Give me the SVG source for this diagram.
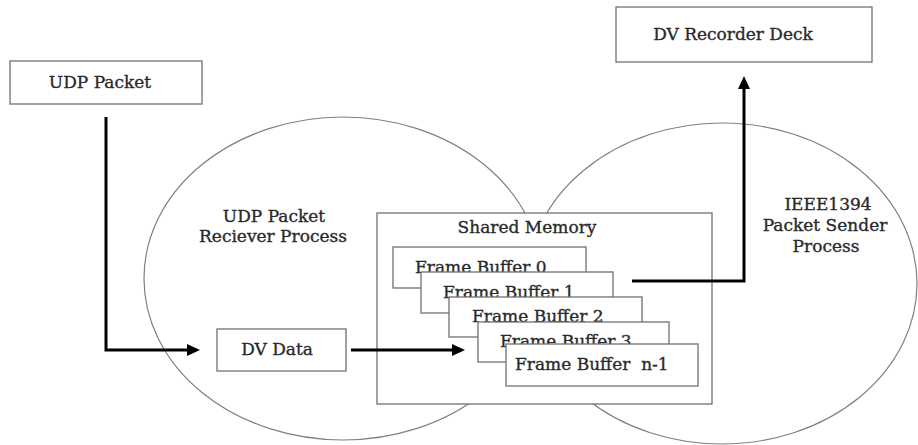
<svg xmlns="http://www.w3.org/2000/svg" width="918" height="445" viewBox="0 0 918 445">
<style>
  .box { fill: #ffffff; stroke: #707070; stroke-width: 1.3; }
  .proc { fill: none; stroke: #808080; stroke-width: 1.2; }
  .lbl { font-family: "DejaVu Serif", "Liberation Serif", serif; font-size: 17px; fill: #2a2a2a; stroke: #2a2a2a; stroke-width: 0.35; }
  .mid { text-anchor: middle; }
  .conn { fill: none; stroke: #000000; stroke-width: 3; stroke-linejoin: miter; }
</style>
<defs>
  <marker id="arrow" markerUnits="userSpaceOnUse" markerWidth="14" markerHeight="13" refX="7" refY="6" orient="auto">
    <path d="M0,0 L13,6 L0,12 z" fill="#000000"/>
  </marker>
</defs>
<rect width="918" height="445" fill="#ffffff"/>

<g id="udp-receiver-process">
  <ellipse class="proc" cx="343" cy="278.5" rx="199" ry="161.5"/>
  <text class="lbl mid" x="274" y="222">UDP Packet</text>
  <text class="lbl mid" x="273" y="242">Reciever Process</text>
</g>

<g id="ieee1394-sender-process">
  <ellipse class="proc" cx="722" cy="283.5" rx="195" ry="160.5"/>
  <text class="lbl mid" x="828" y="210">IEEE1394</text>
  <text class="lbl mid" x="825" y="231">Packet Sender</text>
  <text class="lbl mid" x="826" y="252">Process</text>
</g>

<g id="udp-packet">
  <rect class="box" x="10" y="61" width="192" height="43"/>
  <text class="lbl mid" x="100" y="88">UDP Packet</text>
</g>

<g id="dv-recorder-deck">
  <rect class="box" x="616" y="7" width="256" height="55"/>
  <text class="lbl mid" x="733" y="40">DV Recorder Deck</text>
</g>

<g id="dv-data">
  <rect class="box" x="217" y="329" width="129" height="42"/>
  <text class="lbl mid" x="277" y="355">DV Data</text>
</g>

<g id="shared-memory">
  <rect class="box" x="377" y="213" width="335" height="191"/>
  <text class="lbl mid" x="527" y="233">Shared Memory</text>
</g>

<g id="frame-buffer-0">
  <rect class="box" x="393" y="247" width="193" height="41"/>
  <text class="lbl" x="415" y="273">Frame Buffer 0</text>
</g>
<g id="frame-buffer-1">
  <rect class="box" x="421" y="272" width="192" height="41"/>
  <text class="lbl" x="443" y="298">Frame Buffer 1</text>
</g>
<g id="frame-buffer-2">
  <rect class="box" x="449" y="297" width="193" height="40"/>
  <text class="lbl" x="472" y="322">Frame Buffer 2</text>
</g>
<g id="frame-buffer-3">
  <rect class="box" x="478" y="322" width="191" height="40"/>
  <text class="lbl" x="500" y="347">Frame Buffer 3</text>
</g>
<g id="frame-buffer-n-1">
  <rect class="box" x="506" y="344" width="192" height="42"/>
  <text class="lbl" x="515" y="370" xml:space="preserve">Frame Buffer  n-1</text>
</g>

<g id="connectors">
  <path class="conn" d="M106,117 L106,350 L194,350" marker-end="url(#arrow)"/>
  <path class="conn" d="M351,350 L459,350" marker-end="url(#arrow)"/>
  <path class="conn" d="M632,281 L744,281 L744,82" marker-end="url(#arrow)"/>
</g>
</svg>
